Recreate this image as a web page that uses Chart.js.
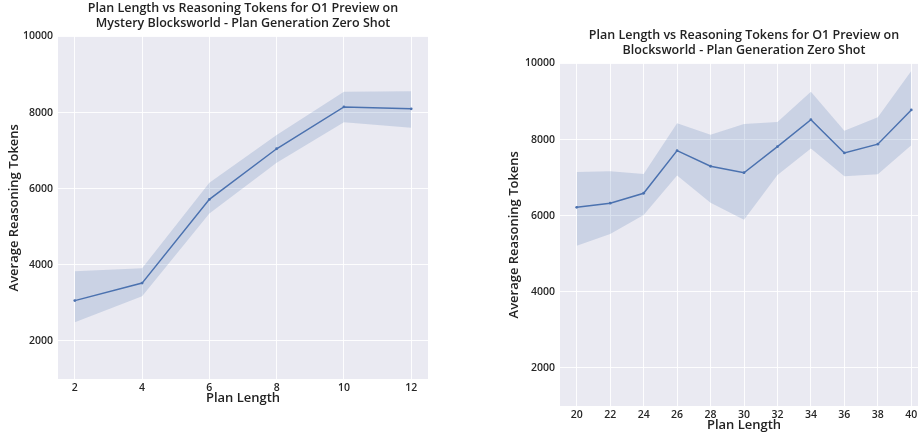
<!DOCTYPE html>
<html>
<head>
<meta charset="utf-8">
<script src="https://cdn.jsdelivr.net/npm/chart.js@4"></script>
<style>
  html, body { margin: 0; padding: 0; background: #fff; }
  #wrap { position: relative; width: 918px; height: 434px; overflow: hidden; }
  canvas { position: absolute; top: 0; }
  #mystery { left: 0; }
  #blocks { left: 500px; }
</style>
</head>
<body>
<div id="wrap">
  <canvas id="mystery" width="440" height="434"></canvas>
  <canvas id="blocks" width="440" height="434"></canvas>
</div>
<script>
// Mystery Blocksworld
const mysteryLengths = [2, 4, 6, 8, 10, 12];
const mysteryMean = [3060, 3520, 5720, 7050, 8150, 8100];
const mysteryUpper = [3830, 3910, 6160, 7410, 8545, 8560];
const mysteryLower = [2490, 3175, 5350, 6685, 7745, 7605];

// Blocksworld
const blocksLengths = [20, 22, 24, 26, 28, 30, 32, 34, 36, 38, 40];
const blocksMean = [6220, 6330, 6590, 7710, 7300, 7130, 7815, 8525, 7650, 7880, 8780];
const blocksUpper = [7150, 7170, 7097, 8430, 8125, 8410, 8465, 9260, 8230, 8590, 9800];
const blocksLower = [5210, 5520, 6020, 7055, 6340, 5895, 7070, 7765, 7035, 7090, 7855];

const yTicks = [2000, 4000, 6000, 8000, 10000];
const mysteryXTicks = [2, 4, 6, 8, 10, 12];
const blocksXTicks = [20, 22, 24, 26, 28, 30, 32, 34, 36, 38, 40];

const FONT = "'Open Sans', sans-serif";
const LINE = '#4C72B0';
const BAND = 'rgba(76, 114, 176, 0.2)';

const plotBg = {
  id: 'plotBg',
  beforeDraw(chart) {
    const { ctx, chartArea: a } = chart;
    ctx.save();
    ctx.fillStyle = '#EAEAF2';
    ctx.fillRect(a.left, a.top, a.right - a.left, a.bottom - a.top);
    ctx.restore();
  }
};

function points(xs, ys) {
  return xs.map((x, i) => ({ x, y: ys[i] }));
}

function makeChart(id, cfg) {
  new Chart(document.getElementById(id), {
    type: 'line',
    data: {
      datasets: [
        {
          data: points(cfg.xs, cfg.upper),
          borderWidth: 0,
          pointRadius: 0,
          backgroundColor: BAND,
          fill: '+1'
        },
        {
          data: points(cfg.xs, cfg.lower),
          borderWidth: 0,
          pointRadius: 0,
          fill: false
        },
        {
          data: points(cfg.xs, cfg.mean),
          borderColor: LINE,
          backgroundColor: LINE,
          borderWidth: 1.5,
          pointRadius: 1.4,
          pointBorderWidth: 0,
          fill: false
        }
      ]
    },
    options: {
      responsive: false,
      animation: false,
      layout: { padding: { top: cfg.padTop, bottom: cfg.padBottom, left: 0, right: 12 } },
      plugins: {
        legend: { display: false },
        tooltip: { enabled: false },
        title: {
          display: true,
          fullSize: false,
          text: cfg.title,
          color: '#222',
          font: { family: FONT, size: 12.5, weight: '600', lineHeight: 1.16 },
          padding: { top: 0, bottom: 6 }
        }
      },
      scales: {
        x: {
          type: 'linear',
          min: cfg.xMin,
          max: cfg.xMax,
          afterBuildTicks: (s) => { s.ticks = cfg.xTicks.map((v) => ({ value: v })); },
          afterFit: (s) => { s.height = 28; },
          grid: { color: 'rgba(255,255,255,0.9)', lineWidth: 1, drawTicks: false },
          border: { display: false },
          ticks: {
            color: '#262626',
            font: { family: FONT, size: 10.5, weight: '600' },
            padding: 3,
            callback: (v) => String(v)
          },
          title: {
            display: true,
            text: 'Plan Length',
            color: '#222',
            font: { family: FONT, size: 13, weight: '600' },
            padding: { top: 0, bottom: 1 }
          }
        },
        y: {
          min: 1000,
          max: 10000,
          afterBuildTicks: (s) => { s.ticks = yTicks.map((v) => ({ value: v })); },
          afterFit: (s) => { s.width = cfg.yWidth; },
          grid: { color: 'rgba(255,255,255,0.9)', lineWidth: 1, drawTicks: false },
          border: { display: false },
          ticks: {
            color: '#262626',
            font: { family: FONT, size: 10.5, weight: '600' },
            padding: 5,
            callback: (v) => String(v)
          },
          title: {
            display: true,
            text: 'Average Reasoning Tokens',
            color: '#222',
            font: { family: FONT, size: 13, weight: '600' },
            padding: { top: 6, bottom: 0 }
          }
        }
      }
    },
    plugins: [plotBg]
  });
}

makeChart('mystery', {
  xs: mysteryLengths, mean: mysteryMean, upper: mysteryUpper, lower: mysteryLower,
  xTicks: mysteryXTicks, xMin: 1.5, xMax: 12.5, yWidth: 58,
  padTop: 1.5, padBottom: 27,
  title: ['Plan Length vs Reasoning Tokens for O1 Preview on', 'Mystery Blocksworld - Plan Generation Zero Shot']
});

makeChart('blocks', {
  xs: blocksLengths, mean: blocksMean, upper: blocksUpper, lower: blocksLower,
  xTicks: blocksXTicks, xMin: 19, xMax: 41, yWidth: 60,
  padTop: 28.5, padBottom: 0,
  title: ['Plan Length vs Reasoning Tokens for O1 Preview on', 'Blocksworld - Plan Generation Zero Shot']
});
</script>
</body>
</html>
